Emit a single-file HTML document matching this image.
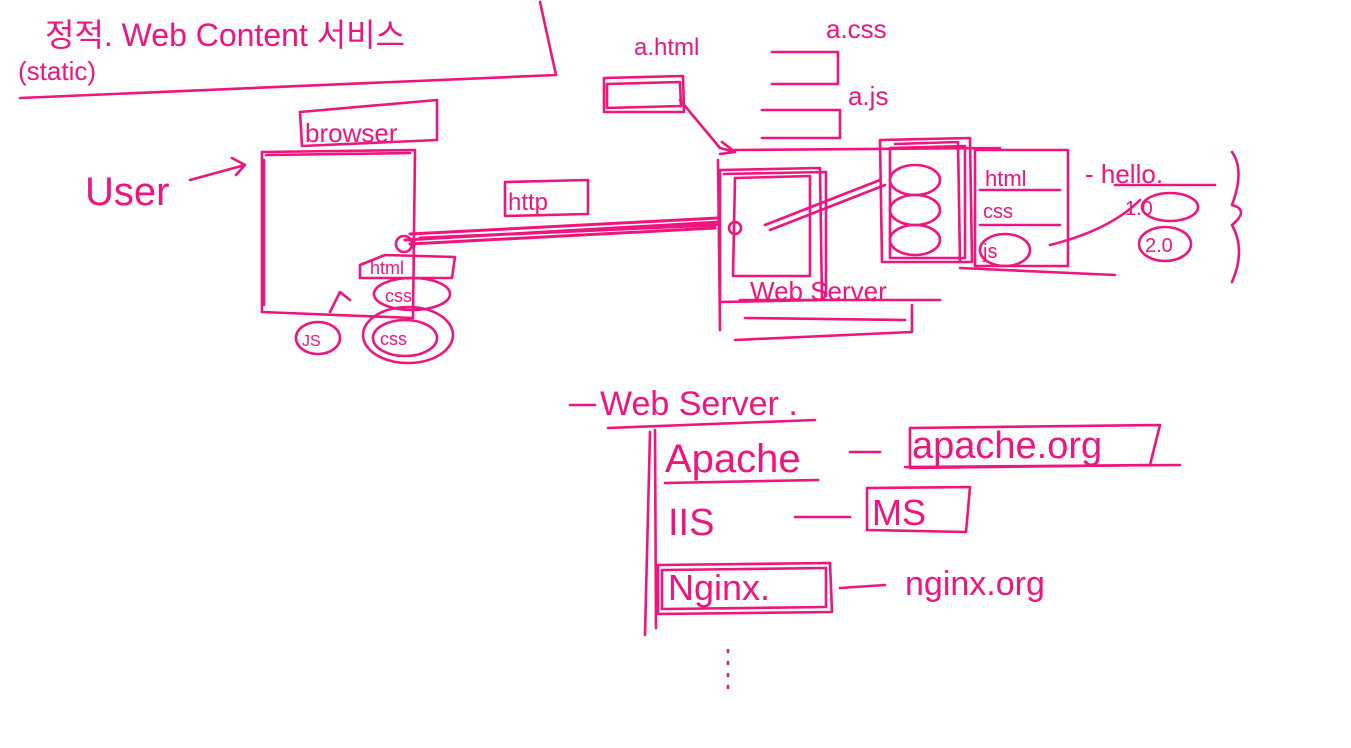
<!DOCTYPE html>
<html><head><meta charset="utf-8"><style>
html,body{margin:0;padding:0;background:#fff;}
svg{display:block}
text{font-family:"Liberation Sans","Noto Sans CJK KR",sans-serif;fill:#f0147f;}
</style></head><body>
<svg width="1351" height="748" viewBox="0 0 1351 748" xmlns="http://www.w3.org/2000/svg">
<rect x="0" y="0" width="1351" height="748" fill="#fff"/>
<g fill="none" stroke="#f0147f" stroke-width="2.6" stroke-linecap="round" stroke-linejoin="round">
<path d="M540 2 L556 75 L20 98"/>
<path d="M300 112 L437 100 L437 140 L302 146 Z"/>
<path d="M262 152 L415 150 L413 318 L262 312 Z"/>
<path d="M266 155 L410 153 M264 160 L264 305"/>
<path d="M190 180 L245 165 M232 158 L245 165 L236 175"/>
<path d="M505 182 L588 180 L588 214 L505 216 Z"/>
<path d="M405 240 L720 222 M410 234 L718 218 M410 244 L715 228 M420 238 L716 225" stroke-width="3"/>
<circle cx="404" cy="244" r="8"/>
<circle cx="735" cy="228" r="6"/>
<path d="M604 78 L683 76 L684 112 L604 112 Z"/>
<path d="M607 84 L680 82 L681 106 L607 108 Z"/>
<path d="M680 100 L720 148 L735 152 M722 142 L735 152 L720 154"/>
<path d="M772 52 L838 52 L838 84 L772 84"/>
<path d="M762 110 L840 110 L840 138 L762 138"/>
<path d="M735 150 L1000 148"/>
<path d="M720 170 L820 168 L822 300 L720 302 Z"/>
<path d="M724 174 L826 172 L826 296"/>
<path d="M735 178 L810 176 L810 276 L733 276 Z"/>
<path d="M718 160 L720 330 M735 340 L912 332 L912 305"/>
<path d="M740 300 L940 300"/>
<path d="M745 318 L905 320"/>
<path d="M765 225 L880 180 M770 230 L885 185"/>
<path d="M880 140 L970 138 L972 262 L882 262 Z"/>
<path d="M890 148 L965 146 L965 258 L890 258 Z"/>
<path d="M895 144 L958 142 L960 262"/>
<ellipse cx="915" cy="180" rx="25" ry="15"/>
<ellipse cx="915" cy="210" rx="25" ry="15"/>
<ellipse cx="915" cy="240" rx="25" ry="15"/>
<path d="M975 150 L1068 150 L1068 266 L975 266 Z"/>
<path d="M980 190 L1060 190 M980 225 L1060 225"/>
<ellipse cx="1005" cy="250" rx="25" ry="16"/>
<path d="M960 268 L1115 275"/>
<path d="M1050 245 Q1110 230 1140 200"/>
<path d="M1115 185 L1215 185"/>
<ellipse cx="1170" cy="207" rx="28" ry="14"/>
<ellipse cx="1165" cy="244" rx="26" ry="17"/>
<path d="M1232 152 Q1245 170 1232 205 Q1250 210 1232 225 Q1246 250 1232 282"/>
<path d="M360 265 L385 255 L455 257 L452 278 L360 278 Z"/>
<ellipse cx="412" cy="294" rx="38" ry="16"/>
<ellipse cx="408" cy="335" rx="45" ry="28"/>
<ellipse cx="405" cy="338" rx="32" ry="18"/>
<ellipse cx="318" cy="338" rx="22" ry="16"/>
<path d="M330 312 L340 292 L350 300"/>
<path d="M570 405 L595 405"/>
<path d="M608 428 L815 420"/>
<path d="M650 432 L645 635 M655 430 L656 628"/>
<path d="M665 483 L818 480"/>
<path d="M850 452 L880 452"/>
<path d="M910 428 L1160 425 L1150 465 L910 468 Z"/>
<path d="M905 467 L1180 465"/>
<path d="M795 517 L850 517"/>
<path d="M867 488 L970 487 L966 532 L867 530 Z"/>
<path d="M658 565 L830 563 L832 612 L658 614 Z"/>
<path d="M662 570 L826 568 L826 607 L662 609 Z"/>
<path d="M840 588 L885 585"/>
<path d="M728 650 L728 690" stroke-dasharray="2 10"/>
</g>
<text x="45" y="46" font-size="32">정적. Web Content 서비스</text>
<text x="18" y="80" font-size="26">(static)</text>
<text x="85" y="205" font-size="40">User</text>
<text x="305" y="142" font-size="26">browser</text>
<text x="508" y="210" font-size="24">http</text>
<text x="634" y="55" font-size="24">a.html</text>
<text x="826" y="38" font-size="26">a.css</text>
<text x="848" y="105" font-size="26">a.js</text>
<text x="370" y="274" font-size="18">html</text>
<text x="385" y="302" font-size="18">css</text>
<text x="380" y="345" font-size="18">css</text>
<text x="302" y="346" font-size="16">JS</text>
<text x="750" y="300" font-size="26">Web Server</text>
<text x="985" y="186" font-size="22">html</text>
<text x="983" y="218" font-size="20">css</text>
<text x="983" y="258" font-size="20">js</text>
<text x="1085" y="183" font-size="26">- hello.</text>
<text x="1125" y="215" font-size="20">1.0</text>
<text x="1145" y="252" font-size="20">2.0</text>
<text x="600" y="415" font-size="34">Web Server .</text>
<text x="665" y="472" font-size="40">Apache</text>
<text x="912" y="458" font-size="38">apache.org</text>
<text x="668" y="535" font-size="38">IIS</text>
<text x="872" y="525" font-size="36">MS</text>
<text x="668" y="600" font-size="36">Nginx.</text>
<text x="905" y="595" font-size="34">nginx.org</text>
</svg>
</body></html>
